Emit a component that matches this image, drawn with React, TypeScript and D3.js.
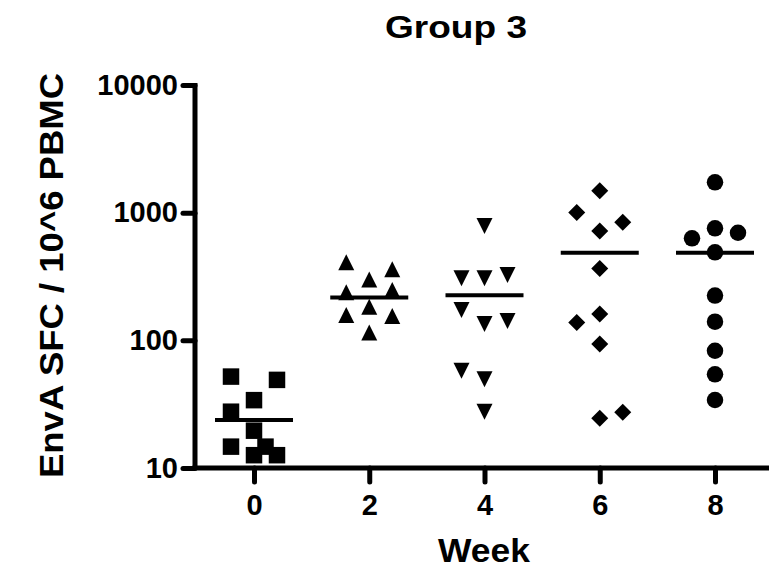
import React, { useEffect, useRef } from "react";
import * as d3 from "d3";

// weeks on the x axis
const weeks = ["0", "2", "4", "6", "8"];

// EnvA SFC per 10^6 PBMC
const week0 = [52, 49, 34, 27.6, 19.6, 14.7, 12.6, 14.7, 12.6];
const week2 = [408, 360, 300, 238, 248, 183, 158, 155, 115];
const week4 = [785, 306, 306, 325, 173, 134, 142, 57.8, 49.5, 27.6];
const week6 = [1485, 1005, 840, 718, 366, 161, 138, 93.5, 24.5, 27.3];
const week8 = [1727, 754, 629, 696, 489, 224, 140, 82.9, 54.2, 34.1];

// column of each point inside its group (Prism scatter spread)
const lanes0 = [-2, 2, 0, -2, 0, -2, 0, 1, 2];
const lanes2 = [-2, 2, 0, -2, 2, 0, -2, 2, 0];
const lanes4 = [0, -2, 0, 2, -2, 0, 2, -2, 0, 0];
const lanes6 = [0, -2, 2, 0, 0, 0, -2, 0, 0, 2];
const lanes8 = [0, 0, -2, 2, 0, 0, 0, 0, 0, 0];

// horizontal bar per group
const means = [23.8, 217, 226, 485, 485];

const yTicks = [10, 100, 1000, 10000];

const FONT = "'Liberation Sans', Arial, sans-serif";

// marker shapes
const square = { draw(ctx, s) { const h = s / 2; ctx.rect(-h, -h, s, s); } };
const triUp = { draw(ctx, s) { ctx.moveTo(0, -s / 2); ctx.lineTo(s / 2, s / 2); ctx.lineTo(-s / 2, s / 2); ctx.closePath(); } };
const triDown = { draw(ctx, s) { ctx.moveTo(0, s / 2); ctx.lineTo(s / 2, -s / 2); ctx.lineTo(-s / 2, -s / 2); ctx.closePath(); } };
const diamond = { draw(ctx, s) { const h = s / 2; ctx.moveTo(0, -h); ctx.lineTo(h, 0); ctx.lineTo(0, h); ctx.lineTo(-h, 0); ctx.closePath(); } };
const circle = { draw(ctx, s) { const r = s / 2; ctx.moveTo(r, 0); ctx.arc(0, 0, r, 0, 2 * Math.PI); } };

const ScatterPlot = () => {
  const svgRef = useRef(null);

  useEffect(() => {
    const svg = d3.select(svgRef.current);
    svg.selectAll("*").remove();

    const left = 195, bottom = 468, top = 85, right = 769;

    const x = d3.scalePoint().domain(weeks).range([254, 715]);
    const y = d3.scaleLog().domain([10, 10000]).range([bottom, top]);
    const lane = d3.scaleLinear().domain([-2, 2]).range([-23, 23]);

    const groups = [
      { vals: week0, lanes: lanes0, shape: square, size: 16.5 },
      { vals: week2, lanes: lanes2, shape: triUp, size: 16 },
      { vals: week4, lanes: lanes4, shape: triDown, size: 16 },
      { vals: week6, lanes: lanes6, shape: diamond, size: 17 },
      { vals: week8, lanes: lanes8, shape: circle, size: 16.5 },
    ];

    // y axis
    const yAxis = svg.append("g")
      .attr("transform", `translate(${left},0)`)
      .call(d3.axisLeft(y).tickValues(yTicks).tickFormat(d3.format("d")).tickSize(12).tickSizeOuter(0).tickPadding(5));
    yAxis.select(".domain").remove();
    yAxis.selectAll("line").attr("stroke", "#000").attr("stroke-width", 5).attr("stroke-linecap", "round");
    yAxis.selectAll("text")
      .attr("font-family", FONT).attr("font-weight", "bold").attr("font-size", 29).attr("fill", "#000");
    svg.append("line")
      .attr("x1", left).attr("x2", left).attr("y1", top - 2).attr("y2", bottom + 2)
      .attr("stroke", "#000").attr("stroke-width", 5);

    // x axis
    const xAxis = svg.append("g")
      .attr("transform", `translate(0,${bottom})`)
      .call(d3.axisBottom(x).tickSize(14).tickSizeOuter(0).tickPadding(12));
    xAxis.select(".domain").remove();
    xAxis.selectAll("line").attr("stroke", "#000").attr("stroke-width", 5).attr("stroke-linecap", "round");
    xAxis.selectAll("text")
      .attr("font-family", FONT).attr("font-weight", "bold").attr("font-size", 29).attr("fill", "#000");
    svg.append("line")
      .attr("x1", left - 2.5).attr("x2", right).attr("y1", bottom).attr("y2", bottom)
      .attr("stroke", "#000").attr("stroke-width", 5);

    // points
    groups.forEach((g, gi) => {
      const cx = x(weeks[gi]);
      svg.append("g").selectAll("path")
        .data(g.vals)
        .join("path")
        .attr("d", d3.symbol().type(g.shape).size(g.size))
        .attr("transform", (d, i) => `translate(${cx + lane(g.lanes[i])},${y(d)})`)
        .attr("fill", "#000");
    });

    // mean lines
    svg.append("g").selectAll("line")
      .data(means)
      .join("line")
      .attr("x1", (d, i) => x(weeks[i]) - 39)
      .attr("x2", (d, i) => x(weeks[i]) + 39)
      .attr("y1", d => y(d))
      .attr("y2", d => y(d))
      .attr("stroke", "#000")
      .attr("stroke-width", 4);

    // titles
    svg.append("text")
      .attr("x", 456).attr("y", 38)
      .attr("text-anchor", "middle")
      .attr("font-family", FONT).attr("font-weight", "bold").attr("font-size", 32)
      .attr("textLength", 142).attr("lengthAdjust", "spacingAndGlyphs")
      .text("Group 3");

    svg.append("text")
      .attr("x", 484).attr("y", 562)
      .attr("text-anchor", "middle")
      .attr("font-family", FONT).attr("font-weight", "bold").attr("font-size", 33)
      .attr("textLength", 92).attr("lengthAdjust", "spacingAndGlyphs")
      .text("Week");

    svg.append("text")
      .attr("transform", "translate(63,275.5) rotate(-90)")
      .attr("text-anchor", "middle")
      .attr("font-family", FONT).attr("font-weight", "bold").attr("font-size", 33)
      .attr("textLength", 405).attr("lengthAdjust", "spacingAndGlyphs")
      .text("EnvA SFC / 10^6 PBMC");
  }, []);

  return (
    <svg ref={svgRef} width={769} height={568}
      style={{ position: "absolute", left: 0, top: 0, background: "#fff" }} />
  );
};

const App = () => <ScatterPlot />;

export default App;
